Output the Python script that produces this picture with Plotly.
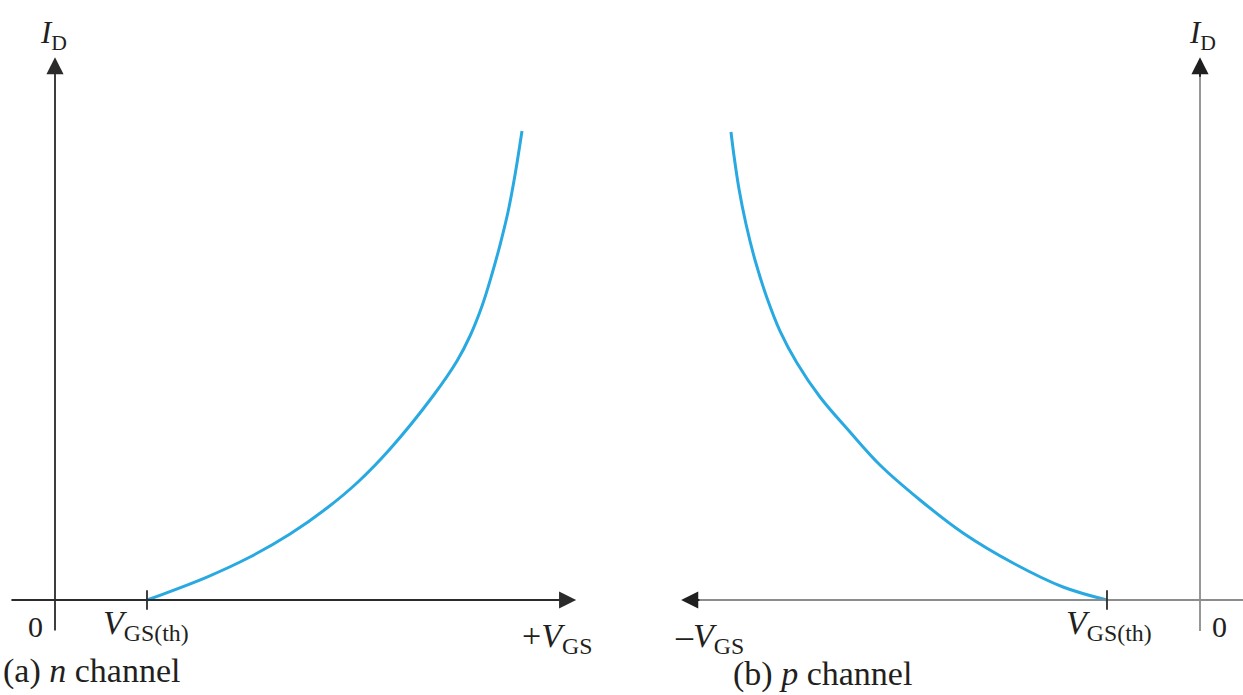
import plotly.graph_objects as go

# Transfer characteristics of enhancement-mode MOSFETs (arbitrary units)
# n channel: V_GS positive, conduction starts at V_GS(th)
vgs_n = [2.0, 3.304, 4.239, 5.109, 5.913, 6.587, 7.283, 8.217, 8.739, 9.022,
         9.283, 9.5, 9.674, 9.848, 10.0, 10.152]
id_n = [0.0, 0.489, 0.915, 1.404, 1.957, 2.511, 3.213, 4.34, 5.085, 5.617,
        6.255, 6.936, 7.553, 8.255, 9.043, 9.979]

# p channel: V_GS negative, conduction starts at -V_GS(th)
vgs_p = [-2.022, -2.978, -4.065, -5.152, -6.087, -6.957, -7.609, -8.261, -8.761,
         -9.13, -9.413, -9.674, -9.87, -10.022, -10.13, -10.196]
id_p = [0.0, 0.277, 0.787, 1.426, 2.128, 2.872, 3.574, 4.319, 5.043,
        5.723, 6.426, 7.234, 8.0, 8.745, 9.447, 9.957]

W, H = 1243, 695
SERIF = "Liberation Serif, Times New Roman, serif"
TXT = "#231f20"
BLUE = "#29a9e1"
AX_N = "#2b2b2b"
AX_P = "#8c8c8c"
HEAD = "#1f1f1f"

vth_n = vgs_n[0]
vth_p = vgs_p[0]

fig = go.Figure()
fig.add_trace(go.Scatter(x=vgs_n, y=id_n, mode="lines", xaxis="x", yaxis="y",
                         line=dict(color=BLUE, width=3, shape="spline", smoothing=1.0),
                         hoverinfo="skip", showlegend=False))
fig.add_trace(go.Scatter(x=vgs_p, y=id_p, mode="lines", xaxis="x2", yaxis="y",
                         line=dict(color=BLUE, width=3, shape="spline", smoothing=1.0),
                         hoverinfo="skip", showlegend=False))

ann = []
shapes = []


def arrow(xref, x_tail, y_tail, x_head, y_head, color):
    ann.append(dict(x=x_head, y=y_head, ax=x_tail, ay=y_tail,
                    xref=xref, yref="y", axref=xref, ayref="y",
                    text="", showarrow=True, arrowhead=2, arrowsize=1.9,
                    arrowwidth=1.8, arrowcolor=color, standoff=0))


def seg(xref, x0, y0, x1, y1, color):
    shapes.append(dict(type="line", xref=xref, yref="y", x0=x0, x1=x1, y0=y0, y1=y1,
                       line=dict(color=color, width=1.8)))


def label(xref, x, y, text, size, xanchor="left", yanchor="top"):
    ann.append(dict(x=x, y=y, xref=xref, yref="y", text=text, showarrow=False,
                    xanchor=xanchor, yanchor=yanchor,
                    font=dict(family=SERIF, size=size, color=TXT)))


# n-channel axes
arrow("x", 0, -0.68, 0, 11.55, AX_N)
arrow("x", -0.98, 0, 11.33, 0, AX_N)

# p-channel axes: grey shafts, dark arrow heads
seg("x2", 0, -0.66, 0, 11.2, AX_P)
seg("x2", 0.95, 0, -10.9, 0, AX_P)
arrow("x2", 0, 11.1, 0, 11.55, HEAD)
arrow("x2", -10.85, 0, -11.28, 0, HEAD)

# threshold ticks
seg("x", vth_n, -0.21, vth_n, 0.21, AX_N)
seg("x2", vth_p, -0.21, vth_p, 0.21, AX_N)

# n-channel labels
label("x", -0.38, 12.5, "<i>I</i><sub>D</sub>", 31)
label("x", -0.43, -0.17, "0", 30, xanchor="center")
label("x", 1.0, -0.05, "<i>V</i><sub>GS(th)</sub>", 34)
label("x", 10.1, -0.32, "+<i>V</i><sub>GS</sub>", 34)
label("x", -1.17, -1.06, "(a) <i>n</i> channel", 34)

# p-channel labels
label("x2", -0.29, 12.5, "<i>I</i><sub>D</sub>", 31)
label("x2", 0.43, -0.17, "0", 30, xanchor="center")
label("x2", -2.95, -0.05, "<i>V</i><sub>GS(th)</sub>", 34)
label("x2", -11.45, -0.32, "–<i>V</i><sub>GS</sub>", 34)
label("x2", -10.2, -1.12, "(b) <i>p</i> channel", 34)

hidden = dict(visible=False, showgrid=False, zeroline=False, fixedrange=True)
fig.update_layout(
    width=W, height=H, margin=dict(l=0, r=0, t=0, b=0),
    paper_bgcolor="white", plot_bgcolor="white",
    xaxis=dict(range=[-55 / 46, 1188 / 46], domain=[0, 1], **hidden),
    xaxis2=dict(range=[-1200 / 46, 43 / 46], overlaying="x", anchor="y", **hidden),
    yaxis=dict(range=[-95 / 47, 600 / 47], domain=[0, 1], **hidden),
    annotations=ann, shapes=shapes, showlegend=False,
)

fig.write_html("out.html")
